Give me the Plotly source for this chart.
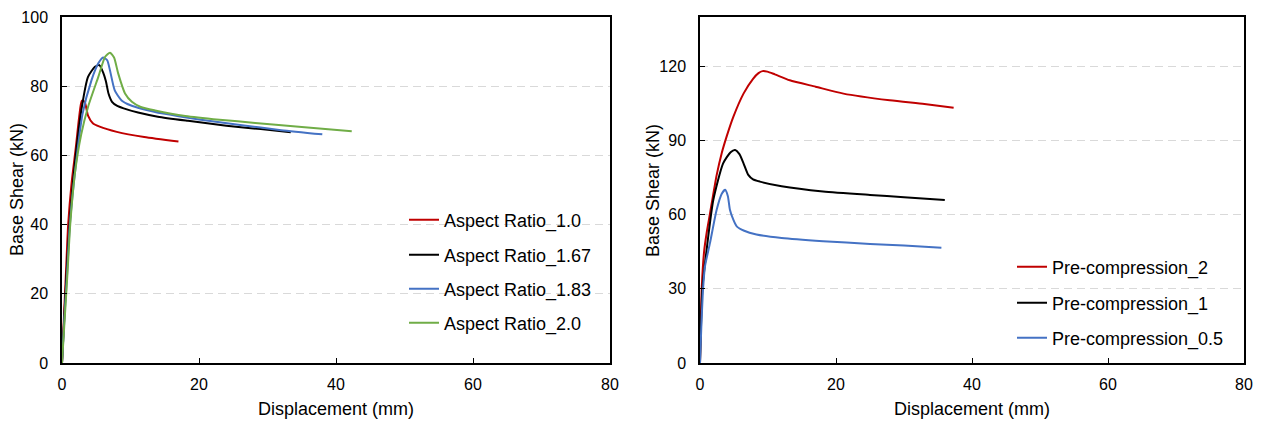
import plotly.graph_objects as go

# ---------- Left chart: aspect ratio ----------
ar10_x = [0, 0.3, 0.6, 0.9, 1.4, 2.0, 2.5, 2.9, 3.3, 3.8, 4.5, 5.5, 8.0, 12.0, 17.0]
ar10_y = [0, 14, 27, 40, 52, 62, 71, 75.8, 75.5, 71.5, 69.3, 68.3, 66.8, 65.3, 64.0]

ar167_x = [0, 0.35, 0.7, 1.1, 1.9, 2.9, 3.8, 4.8, 5.45, 6.0, 6.4, 6.8, 7.3, 8.0, 9.0, 11.1, 14.0, 18.4, 24.0, 29.0, 33.4]
ar167_y = [0, 14, 27, 40, 58, 74, 82.7, 85.6, 86.1, 84.0, 81.5, 77.8, 75.5, 74.4, 73.6, 72.4, 71.2, 70.0, 68.6, 67.6, 66.7]

ar183_x = [0, 0.35, 0.75, 1.15, 2.0, 3.0, 4.3, 5.3, 6.0, 6.6, 7.0, 7.7, 8.7, 10.0, 11.6, 15.0, 20.0, 26.0, 32.0, 38.0]
ar183_y = [0, 13, 26, 40, 57, 72, 81.7, 86.6, 88.3, 87.5, 84.6, 78.8, 75.9, 74.5, 73.5, 72.0, 70.4, 68.8, 67.3, 66.1]

ar20_x = [0, 0.4, 0.8, 1.2, 1.9, 2.8, 3.8, 5.3, 6.3, 7.0, 7.6, 8.2, 9.2, 10.2, 11.5, 13.6, 18.0, 23.0, 28.2, 35.0, 42.3]
ar20_y = [0, 13, 26, 40, 55, 66, 74, 82.7, 88.5, 89.7, 88.3, 83.7, 77.9, 75.5, 74.0, 73.0, 71.4, 70.3, 69.4, 68.2, 67.0]

# ---------- Right chart: pre-compression ----------
pc2_x = [0, 0.1, 0.25, 0.6, 1.0, 1.47, 2.45, 3.2, 3.9, 4.9, 6.4, 7.8, 8.6, 9.2, 9.9, 11.0, 13.2, 17.0, 21.1, 27.9, 33.0, 37.3]
pc2_y = [0, 15, 30, 45, 53, 60.5, 76, 85, 91.5, 99.6, 109, 115, 117.3, 118.1, 117.9, 116.8, 114.4, 111.8, 109, 106.3, 104.8, 103.3]

pc1_x = [0, 0.15, 0.35, 0.98, 1.96, 3.4, 4.5, 5.15, 5.8, 6.4, 7.1, 7.8, 8.8, 12.0, 18.1, 25.0, 30.0, 36.0]
pc1_y = [0, 15, 30, 45.9, 66, 80.8, 85.3, 86.2, 84.5, 80.8, 76.1, 74.3, 73.4, 71.5, 69.4, 68.0, 67.1, 66.0]

pc05_x = [0, 0.2, 0.45, 0.74, 1.47, 2.45, 3.2, 3.7, 4.1, 4.4, 4.9, 5.4, 6.5, 8.3, 12.0, 18.1, 25.0, 30.0, 35.5]
pc05_y = [0, 15, 30, 39.2, 48.6, 62, 68.5, 70.1, 67.5, 62, 58, 55.3, 53.5, 52, 50.6, 49.3, 48.2, 47.5, 46.6]

left_names = ["Aspect Ratio_1.0", "Aspect Ratio_1.67", "Aspect Ratio_1.83", "Aspect Ratio_2.0"]
right_names = ["Pre-compression_2", "Pre-compression_1", "Pre-compression_0.5"]

x_ticks = [0, 20, 40, 60, 80]
left_y_ticks = [0, 20, 40, 60, 80, 100]
right_y_ticks = [0, 30, 60, 90, 120]

x_title = "Displacement (mm)"
y_title = "Base Shear (kN)"

RED, BLACK, BLUE, GREEN = "#C00000", "#000000", "#4472C4", "#70AD47"
FONT = "Liberation Sans, Arial, sans-serif"
W, H = 1262, 422

fig = go.Figure()

left_series = [(ar10_x, ar10_y, RED), (ar167_x, ar167_y, BLACK),
               (ar183_x, ar183_y, BLUE), (ar20_x, ar20_y, GREEN)]
right_series = [(pc2_x, pc2_y, RED), (pc1_x, pc1_y, BLACK), (pc05_x, pc05_y, BLUE)]

# legend item centre rows (pixels from top)
left_leg_rows = [220, 255, 289, 323]
right_leg_rows = [267, 303, 338]

legend_layout = {}
k = 0
for (xs, ys, c), name, row in zip(left_series, left_names, left_leg_rows):
    k += 1
    lname = "legend" if k == 1 else f"legend{k}"
    fig.add_trace(go.Scatter(x=xs, y=ys, mode="lines", name=name,
                             line=dict(color=c, width=2, shape="spline", smoothing=0.6),
                             xaxis="x", yaxis="y", legend=lname))
    legend_layout[lname] = dict(x=404 / W, y=1 - row / H, xanchor="left", yanchor="middle",
                                bgcolor="rgba(0,0,0,0)", font=dict(size=18, family=FONT, color="#000"),
                                itemwidth=30)
for (xs, ys, c), name, row in zip(right_series, right_names, right_leg_rows):
    k += 1
    lname = f"legend{k}"
    fig.add_trace(go.Scatter(x=xs, y=ys, mode="lines", name=name,
                             line=dict(color=c, width=2, shape="spline", smoothing=0.6),
                             xaxis="x2", yaxis="y2", legend=lname))
    legend_layout[lname] = dict(x=1012 / W, y=1 - row / H, xanchor="left", yanchor="middle",
                                bgcolor="rgba(0,0,0,0)", font=dict(size=18, family=FONT, color="#000"),
                                itemwidth=30)

grid = dict(showgrid=True, gridcolor="#D9D9D9", griddash="8px,5px", gridwidth=1.3)
axis_common = dict(showline=True, linecolor="#000", linewidth=1.5, mirror=True,
                   ticks="inside", ticklen=5, tickcolor="#000", tickwidth=1,
                   tickfont=dict(size=16, family=FONT, color="#000"), zeroline=False,
                   automargin=False)

title_font = dict(size=18, family=FONT, color="#000")
annotations = [
    dict(text=y_title, x=17 / W, y=1 - 190 / H, xref="paper", yref="paper", textangle=-90,
         showarrow=False, xanchor="center", yanchor="middle", font=title_font),
    dict(text=y_title, x=653 / W, y=1 - 190 / H, xref="paper", yref="paper", textangle=-90,
         showarrow=False, xanchor="center", yanchor="middle", font=title_font),
    dict(text=x_title, x=336 / W, y=1 - 409 / H, xref="paper", yref="paper",
         showarrow=False, xanchor="center", yanchor="middle", font=title_font),
    dict(text=x_title, x=972 / W, y=1 - 409 / H, xref="paper", yref="paper",
         showarrow=False, xanchor="center", yanchor="middle", font=title_font),
]

ydom = [1 - 363 / H, 1 - 17 / H]
fig.update_layout(
    width=W, height=H,
    margin=dict(l=0, r=0, t=0, b=0, autoexpand=False),
    paper_bgcolor="white", plot_bgcolor="white",
    font=dict(family=FONT, color="#000"),
    showlegend=True,
    xaxis=dict(domain=[62 / W, 610 / W], range=[0, 80], tickvals=x_ticks, showgrid=False,
               ticklabelstandoff=6, anchor="y", **axis_common),
    yaxis=dict(domain=ydom, range=[0, 100], tickvals=left_y_ticks,
               ticklabelstandoff=9, anchor="x", **grid, **axis_common),
    xaxis2=dict(domain=[700 / W, 1244 / W], range=[0, 80], tickvals=x_ticks, showgrid=False,
                ticklabelstandoff=6, anchor="y2", **axis_common),
    yaxis2=dict(domain=ydom, range=[0, 140], tickvals=right_y_ticks,
                ticklabelstandoff=9, anchor="x2", **grid, **axis_common),
    annotations=annotations,
    **legend_layout,
)

fig.write_html("out.html", config={"displayModeBar": False},
               post_script="document.body.style.margin='0px';document.body.style.overflow='hidden';")
